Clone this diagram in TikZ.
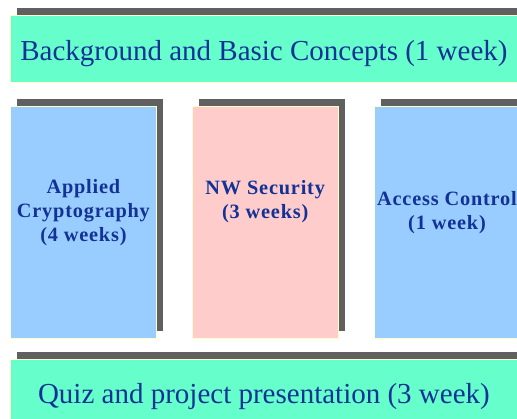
\documentclass[tikz,border=0pt]{standalone}
\usepackage{fontspec}
\setmainfont{Liberation Serif}
\newfontfamily\topicfont{Liberation Serif}[LetterSpace=4.0]
\usetikzlibrary{positioning,shadows}

\definecolor{barGreen}{HTML}{66FFCC}
\definecolor{topicBlue}{HTML}{99CCFF}
\definecolor{topicPink}{HTML}{FFCCCC}
\definecolor{shadowGray}{HTML}{606060}
\definecolor{edgeYellow}{HTML}{FFFFCC}
\definecolor{labelBlue}{RGB}{18,50,150}

\tikzset{
    bar/.style={
           rectangle,
           fill=barGreen,
           draw=edgeYellow, line width=0.8pt,
           minimum width=507pt,
           minimum height=67pt,
           inner sep=0pt,
           general shadow={fill=shadowGray, shadow xshift=7pt, shadow yshift=7pt},
           },
    topic/.style={
           rectangle,
           draw=edgeYellow, line width=0.8pt,
           minimum width=146pt,
           minimum height=232pt,
           inner sep=0pt,
           general shadow={fill=shadowGray, shadow xshift=7pt, shadow yshift=7pt},
           },
    bartext/.style={
           text=labelBlue,
           font=\fontsize{29}{34}\selectfont,
           inner sep=0pt,
           anchor=base,
           },
    topictext/.style={
           text=labelBlue,
           align=center,
           font=\topicfont\bfseries\fontsize{20.3}{24}\selectfont,
           inner sep=0pt,
           },
}

\begin{document}
\begin{tikzpicture}[x=1pt,y=1pt]

 \path[use as bounding box, clip] (0,0) rectangle (517,419);

 % top bar
 \node[bar, anchor=north west] (basics) at (10,404) {};
 \node[bartext] (basicsText) at ([yshift=-12pt]basics.center)
 {Background and Basic Concepts (1 week)};

 % the three topic columns
 \node[topic, fill=topicBlue,
  below=23pt of basics.south west, 	% gap under the top bar
  anchor=north west] (crypto) {};

 \node[topic, fill=topicPink,
  right=35pt of crypto] (nwsec) {};

 \node[topic, fill=topicBlue,
  right=35pt of nwsec] (access) {};

 \node[topictext] (cryptoText) at ([yshift=9.5pt]crypto.center)
 {Applied\\Cryptography\\(4 weeks)};
 \node[topictext] (nwsecText) at ([yshift=21pt]nwsec.center)
 {NW Security\\(3 weeks)};
 \node[topictext] (accessText) at ([yshift=10pt]access.center)
 {Access Control\\(1 week)};

 % bottom bar
 \node[bar,
  below=20pt of crypto.south west,
  anchor=north west] (quiz) {};
 \node[bartext] (quizText) at ([yshift=-11.5pt]quiz.center)
 {Quiz and project presentation (3 week)};

\end{tikzpicture}
\end{document}
